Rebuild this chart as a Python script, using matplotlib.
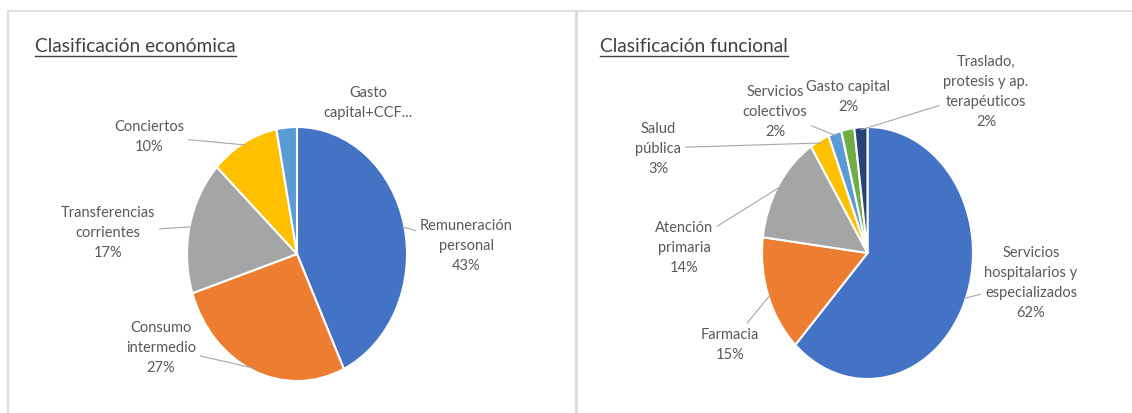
import numpy as np
import matplotlib
matplotlib.use("Agg")
import matplotlib.pyplot as plt
from matplotlib.patches import Rectangle
from matplotlib.lines import Line2D

W, H = 1132, 414

# data
eco_labels = ["Remuneración\npersonal", "Consumo\nintermedio", "Transferencias\ncorrientes",
              "Conciertos", "Gasto\ncapital+CCF..."]
eco_values = [43, 27, 17, 10, 3]
eco_show_pct = [True, True, True, True, False]

fun_labels = ["Servicios\nhospitalarios y\nespecializados", "Farmacia", "Atención\nprimaria",
              "Salud\npública", "Servicios\ncolectivos", "Gasto capital",
              "Traslado,\nprotesis y ap.\nterapéuticos"]
fun_values = [62, 15, 14, 3, 2, 2, 2]
fun_show_pct = [True] * 7

eco_colors = ["#4472C4", "#ED7D31", "#A5A5A5", "#FFC000", "#5B9BD5"]
fun_colors = ["#4472C4", "#ED7D31", "#A5A5A5", "#FFC000", "#5B9BD5", "#70AD47", "#264478"]

# layout (pixels, from top-left of the image)
eco_box = (187, 128, 220, 254)   # x, y, w, h of the pie ellipse
fun_box = (762, 128, 211, 252)
eco_text_pos = [(466, 246), (161, 348), (108, 233), (149, 137), (368, 103)]
eco_leader = [True, True, True, True, False]
fun_text_pos = [(1031, 283), (730, 345), (684, 248), (658, 149), (775, 112), (848, 97), (986, 92)]
fun_leader = [True, True, True, True, True, False, True]

FONT = "Lato"
TXT = "#595959"

fig = plt.figure(figsize=(W / 100, H / 100), dpi=100)
fig.patch.set_facecolor("white")

def fx(x):
    return x / W

def fy(y):
    return 1 - y / H

# panel frames
fig.add_artist(Rectangle((fx(8), fy(420)), fx(576 - 8), 408 / H, transform=fig.transFigure,
                         fill=False, edgecolor="#d9d9d9", lw=1.2))
fig.add_artist(Rectangle((fx(577), fy(420)), fx(600), 408 / H, transform=fig.transFigure,
                         fill=False, edgecolor="#d9d9d9", lw=1.2))


def draw_pie(box, values, labels, show_pct, colors, text_pos, leader):
    x, y, w, h = box
    ax = fig.add_axes([fx(x), fy(y + h), fx(w), h / H])
    ax.pie(values, colors=colors, startangle=90, counterclock=False, radius=1,
           wedgeprops=dict(edgecolor="white", linewidth=1.5))
    ax.set_aspect("auto")
    ax.set_xlim(-1, 1)
    ax.set_ylim(-1, 1)
    ax.axis("off")
    total = float(sum(values))
    cum = 0.0
    for v, lab, sp, pos, ld in zip(values, labels, show_pct, text_pos, leader):
        mid = (cum + v / 2) / total * 2 * np.pi
        cum += v
        txt = lab + ("\n%d%%" % round(v / total * 100) if sp else "")
        xy = (np.sin(mid) * 0.98, np.cos(mid) * 0.98)
        ap = dict(arrowstyle="-", color="#a6a6a6", lw=0.8, shrinkA=1, shrinkB=0) if ld else None
        ax.annotate(txt, xy=xy, xycoords="data", xytext=(fx(pos[0]), fy(pos[1])),
                    textcoords="figure fraction", ha="center", va="center",
                    fontsize=10.5, color=TXT, family=FONT, linespacing=1.55,
                    arrowprops=ap, annotation_clip=False)
    return ax


draw_pie(eco_box, eco_values, eco_labels, eco_show_pct, eco_colors, eco_text_pos, eco_leader)
draw_pie(fun_box, fun_values, fun_labels, fun_show_pct, fun_colors, fun_text_pos, fun_leader)

# titles with underline
titles = [("Clasificación económica", 35, 52), ("Clasificación funcional", 600, 52)]
fig.canvas.draw()
renderer = fig.canvas.get_renderer()
for t, tx, ty in titles:
    tt = fig.text(fx(tx), fy(ty), t, fontsize=13.8, color="#404040", family=FONT,
                  ha="left", va="baseline")
    bb = tt.get_window_extent(renderer=renderer)
    uy = fy(ty + 5)
    fig.add_artist(Line2D([bb.x0 / W, bb.x1 / W], [uy, uy], transform=fig.transFigure,
                          color="#404040", lw=1.0))

fig.savefig("out.png", dpi=100, facecolor="white")
